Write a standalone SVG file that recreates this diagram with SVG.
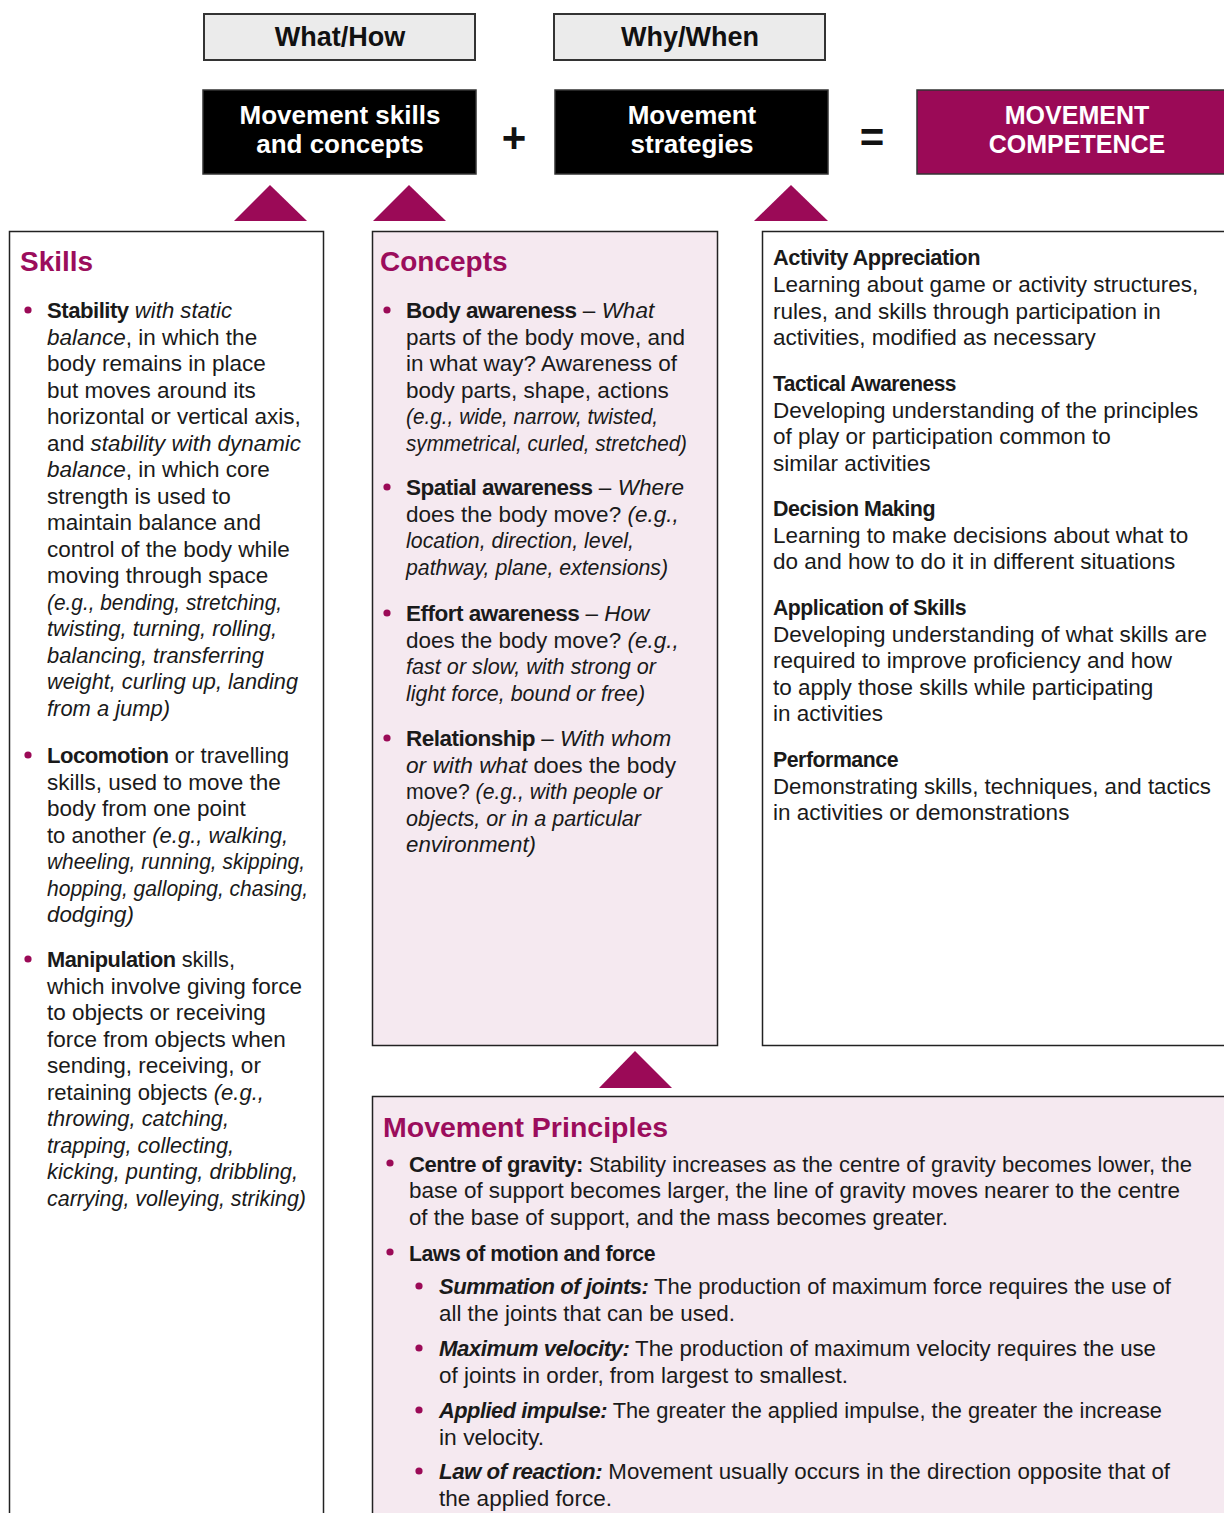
<svg xmlns="http://www.w3.org/2000/svg" width="1224" height="1513" viewBox="0 0 1224 1513">
<style>
text{font-family:"Liberation Sans",Arial,sans-serif;}
.t{font-size:22.5px;fill:#1a1a1a;}
.b{font-weight:bold;letter-spacing:-0.5px;}
.i{font-style:italic;}
.h{font-size:28px;font-weight:bold;fill:#9b0d5c;}
.lbl{font-size:27px;font-weight:bold;fill:#111;text-anchor:middle;}
.wl{font-size:26px;font-weight:bold;fill:#fff;text-anchor:middle;}
.op{font-size:42px;font-weight:bold;fill:#111;text-anchor:middle;}
.gray{fill:#ebebeb;stroke:#333;stroke-width:2;}
.blk{fill:#000;stroke:#333;stroke-width:1.5;}
.panel{stroke:#222;stroke-width:1.5;}
.pink{fill:#f5e9f0;}
.wht{fill:#fff;}
.tri{fill:#9b0a57;}
.dot{fill:#9b0a57;}
</style>
<rect width="1224" height="1513" fill="#fff"/>

<g id="label-what-how">
<rect class="gray" x="204" y="14" width="271" height="46"/>
<text class="lbl" x="340" y="46">What/How</text>
</g>
<g id="label-why-when">
<rect class="gray" x="554" y="14" width="271" height="46"/>
<text class="lbl" x="690" y="46">Why/When</text>
</g>

<g id="node-skills-concepts">
<rect class="blk" x="203" y="90" width="273" height="84"/>
<text class="wl" x="340" y="124">Movement skills</text>
<text class="wl" x="340" y="153">and concepts</text>
</g>
<g id="node-strategies">
<rect class="blk" x="555" y="90" width="273" height="84"/>
<text class="wl" x="692" y="124">Movement</text>
<text class="wl" x="692" y="153">strategies</text>
</g>
<g id="node-competence">
<rect x="917" y="90" width="320" height="84" fill="#9b0a57" stroke="#333" stroke-width="1.5"/>
<text class="wl" x="1077" y="124" style="font-size:25px">MOVEMENT</text>
<text class="wl" x="1077" y="153" style="font-size:25px">COMPETENCE</text>
</g>
<g id="operators">
<text class="op" x="514" y="152">+</text>
<text class="op" x="872" y="152">=</text>
</g>

<g id="connectors">
<polygon class="tri" points="234,221 270,185 307,221"/>
<polygon class="tri" points="373,221 409,185 446,221"/>
<polygon class="tri" points="754,221 791,185 828,221"/>
<polygon class="tri" points="599,1088 635,1051 672,1088"/>
</g>

<g id="node-skills">
<rect class="panel wht" x="9.5" y="231.5" width="314" height="1300"/>
<text class="h" x="20" y="271">Skills</text>
<circle class="dot" cx="28" cy="310" r="3.6"/>
<text class="t" x="47" y="318" textLength="185" lengthAdjust="spacingAndGlyphs"><tspan class="b">Stability</tspan> <tspan class="i">with static</tspan></text>
<text class="t" x="47" y="344.5"><tspan class="i">balance</tspan>, in which the</text>
<text class="t" x="47" y="371">body remains in place</text>
<text class="t" x="47" y="397.5">but moves around its</text>
<text class="t" x="47" y="424">horizontal or vertical axis,</text>
<text class="t" x="47" y="450.5" textLength="254" lengthAdjust="spacingAndGlyphs">and <tspan class="i">stability with dynamic</tspan></text>
<text class="t" x="47" y="477"><tspan class="i">balance</tspan>, in which core</text>
<text class="t" x="47" y="503.5">strength is used to</text>
<text class="t" x="47" y="530">maintain balance and</text>
<text class="t" x="47" y="556.5">control of the body while</text>
<text class="t" x="47" y="583">moving through space</text>
<text class="t i" x="47" y="609.5" textLength="235" lengthAdjust="spacingAndGlyphs">(e.g., bending, stretching,</text>
<text class="t i" x="47" y="636" textLength="230" lengthAdjust="spacingAndGlyphs">twisting, turning, rolling,</text>
<text class="t i" x="47" y="662.5" textLength="217" lengthAdjust="spacingAndGlyphs">balancing, transferring</text>
<text class="t i" x="47" y="689" textLength="251" lengthAdjust="spacingAndGlyphs">weight, curling up, landing</text>
<text class="t i" x="47" y="715.5" textLength="123" lengthAdjust="spacingAndGlyphs">from a jump)</text>

<circle class="dot" cx="28" cy="755" r="3.6"/>
<text class="t" x="47" y="763" textLength="242" lengthAdjust="spacingAndGlyphs"><tspan class="b">Locomotion</tspan> or travelling</text>
<text class="t" x="47" y="789.5">skills, used to move the</text>
<text class="t" x="47" y="816">body from one point</text>
<text class="t" x="47" y="842.5" textLength="241" lengthAdjust="spacingAndGlyphs">to another <tspan class="i">(e.g., walking,</tspan></text>
<text class="t i" x="47" y="869" textLength="258" lengthAdjust="spacingAndGlyphs">wheeling, running, skipping,</text>
<text class="t i" x="47" y="895.5" textLength="261" lengthAdjust="spacingAndGlyphs">hopping, galloping, chasing,</text>
<text class="t i" x="47" y="922" textLength="87" lengthAdjust="spacingAndGlyphs">dodging)</text>

<circle class="dot" cx="28" cy="959" r="3.6"/>
<text class="t" x="47" y="967" textLength="188" lengthAdjust="spacingAndGlyphs"><tspan class="b">Manipulation</tspan> skills,</text>
<text class="t" x="47" y="993.5">which involve giving force</text>
<text class="t" x="47" y="1020">to objects or receiving</text>
<text class="t" x="47" y="1046.5">force from objects when</text>
<text class="t" x="47" y="1073">sending, receiving, or</text>
<text class="t" x="47" y="1099.5" textLength="217" lengthAdjust="spacingAndGlyphs">retaining objects <tspan class="i">(e.g.,</tspan></text>
<text class="t i" x="47" y="1126" textLength="182" lengthAdjust="spacingAndGlyphs">throwing, catching,</text>
<text class="t i" x="47" y="1152.5" textLength="187" lengthAdjust="spacingAndGlyphs">trapping, collecting,</text>
<text class="t i" x="47" y="1179" textLength="251" lengthAdjust="spacingAndGlyphs">kicking, punting, dribbling,</text>
<text class="t i" x="47" y="1205.5" textLength="259" lengthAdjust="spacingAndGlyphs">carrying, volleying, striking)</text>
</g>

<g id="node-concepts">
<rect class="panel pink" x="372.5" y="231.5" width="345" height="814"/>
<text class="h" x="380" y="271">Concepts</text>
<circle class="dot" cx="387" cy="310" r="3.6"/>
<text class="t" x="406" y="318"><tspan class="b">Body awareness</tspan> – <tspan class="i">What</tspan></text>
<text class="t" x="406" y="344.5">parts of the body move, and</text>
<text class="t" x="406" y="371">in what way? Awareness of</text>
<text class="t" x="406" y="397.5">body parts, shape, actions</text>
<text class="t i" x="406" y="424" textLength="252" lengthAdjust="spacingAndGlyphs">(e.g., wide, narrow, twisted,</text>
<text class="t i" x="406" y="450.5" textLength="281" lengthAdjust="spacingAndGlyphs">symmetrical, curled, stretched)</text>

<circle class="dot" cx="387" cy="487" r="3.6"/>
<text class="t" x="406" y="495"><tspan class="b">Spatial awareness</tspan> – <tspan class="i">Where</tspan></text>
<text class="t" x="406" y="521.5">does the body move? <tspan class="i">(e.g.,</tspan></text>
<text class="t i" x="406" y="548" textLength="228" lengthAdjust="spacingAndGlyphs">location, direction, level,</text>
<text class="t i" x="406" y="574.5" textLength="262" lengthAdjust="spacingAndGlyphs">pathway, plane, extensions)</text>

<circle class="dot" cx="387" cy="613" r="3.6"/>
<text class="t" x="406" y="621"><tspan class="b">Effort awareness</tspan> – <tspan class="i">How</tspan></text>
<text class="t" x="406" y="647.5">does the body move? <tspan class="i">(e.g.,</tspan></text>
<text class="t i" x="406" y="674" textLength="250" lengthAdjust="spacingAndGlyphs">fast or slow, with strong or</text>
<text class="t i" x="406" y="700.5" textLength="239" lengthAdjust="spacingAndGlyphs">light force, bound or free)</text>

<circle class="dot" cx="387" cy="738" r="3.6"/>
<text class="t" x="406" y="746"><tspan class="b">Relationship</tspan> – <tspan class="i">With whom</tspan></text>
<text class="t" x="406" y="772.5" textLength="270" lengthAdjust="spacingAndGlyphs"><tspan class="i">or with what</tspan> does the body</text>
<text class="t" x="406" y="799" textLength="256" lengthAdjust="spacingAndGlyphs">move? <tspan class="i">(e.g., with people or</tspan></text>
<text class="t i" x="406" y="825.5" textLength="235" lengthAdjust="spacingAndGlyphs">objects, or in a particular</text>
<text class="t i" x="406" y="852" textLength="130" lengthAdjust="spacingAndGlyphs">environment)</text>
</g>

<g id="node-strategies-detail">
<rect class="panel wht" x="762.5" y="231.5" width="480" height="814"/>
<text class="t b" x="773" y="265" textLength="207" lengthAdjust="spacingAndGlyphs">Activity Appreciation</text>
<text class="t" x="773" y="292">Learning about game or activity structures,</text>
<text class="t" x="773" y="318.5">rules, and skills through participation in</text>
<text class="t" x="773" y="345">activities, modified as necessary</text>

<text class="t b" x="773" y="391" textLength="183" lengthAdjust="spacingAndGlyphs">Tactical Awareness</text>
<text class="t" x="773" y="417.5">Developing understanding of the principles</text>
<text class="t" x="773" y="444">of play or participation common to</text>
<text class="t" x="773" y="470.5">similar activities</text>

<text class="t b" x="773" y="516" textLength="162" lengthAdjust="spacingAndGlyphs">Decision Making</text>
<text class="t" x="773" y="542.5">Learning to make decisions about what to</text>
<text class="t" x="773" y="569">do and how to do it in different situations</text>

<text class="t b" x="773" y="615" textLength="193" lengthAdjust="spacingAndGlyphs">Application of Skills</text>
<text class="t" x="773" y="641.5">Developing understanding of what skills are</text>
<text class="t" x="773" y="668">required to improve proficiency and how</text>
<text class="t" x="773" y="694.5">to apply those skills while participating</text>
<text class="t" x="773" y="721">in activities</text>

<text class="t b" x="773" y="767" textLength="125" lengthAdjust="spacingAndGlyphs">Performance</text>
<text class="t" x="773" y="793.5" textLength="438" lengthAdjust="spacingAndGlyphs">Demonstrating skills, techniques, and tactics</text>
<text class="t" x="773" y="820">in activities or demonstrations</text>
</g>

<g id="node-principles">
<rect class="panel pink" x="372.5" y="1096.5" width="870" height="430"/>
<text class="h" x="383" y="1137" style="font-size:28.5px">Movement Principles</text>
<circle class="dot" cx="390" cy="1163" r="3.6"/>
<text class="t" x="409" y="1171.5" textLength="783" lengthAdjust="spacingAndGlyphs"><tspan class="b">Centre of gravity:</tspan> Stability increases as the centre of gravity becomes lower, the</text>
<text class="t" x="409" y="1198" textLength="771" lengthAdjust="spacingAndGlyphs">base of support becomes larger, the line of gravity moves nearer to the centre</text>
<text class="t" x="409" y="1224.5" textLength="539" lengthAdjust="spacingAndGlyphs">of the base of support, and the mass becomes greater.</text>
<circle class="dot" cx="390" cy="1252" r="3.6"/>
<text class="t b" x="409" y="1260.5" textLength="246" lengthAdjust="spacingAndGlyphs">Laws of motion and force</text>

<circle class="dot" cx="419" cy="1286" r="3.6"/>
<text class="t" x="439" y="1294" textLength="732" lengthAdjust="spacingAndGlyphs"><tspan class="b i">Summation of joints:</tspan> The production of maximum force requires the use of</text>
<text class="t" x="439" y="1320.5" textLength="296" lengthAdjust="spacingAndGlyphs">all the joints that can be used.</text>
<circle class="dot" cx="419" cy="1348" r="3.6"/>
<text class="t" x="439" y="1356" textLength="717" lengthAdjust="spacingAndGlyphs"><tspan class="b i">Maximum velocity:</tspan> The production of maximum velocity requires the use</text>
<text class="t" x="439" y="1382.5" textLength="409" lengthAdjust="spacingAndGlyphs">of joints in order, from largest to smallest.</text>
<circle class="dot" cx="419" cy="1410" r="3.6"/>
<text class="t" x="439" y="1418" textLength="723" lengthAdjust="spacingAndGlyphs"><tspan class="b i">Applied impulse:</tspan> The greater the applied impulse, the greater the increase</text>
<text class="t" x="439" y="1444.5" textLength="105" lengthAdjust="spacingAndGlyphs">in velocity.</text>
<circle class="dot" cx="419" cy="1471" r="3.6"/>
<text class="t" x="439" y="1479" textLength="731" lengthAdjust="spacingAndGlyphs"><tspan class="b i">Law of reaction:</tspan> Movement usually occurs in the direction opposite that of</text>
<text class="t" x="439" y="1505.5" textLength="173" lengthAdjust="spacingAndGlyphs">the applied force.</text>
</g>
</svg>
